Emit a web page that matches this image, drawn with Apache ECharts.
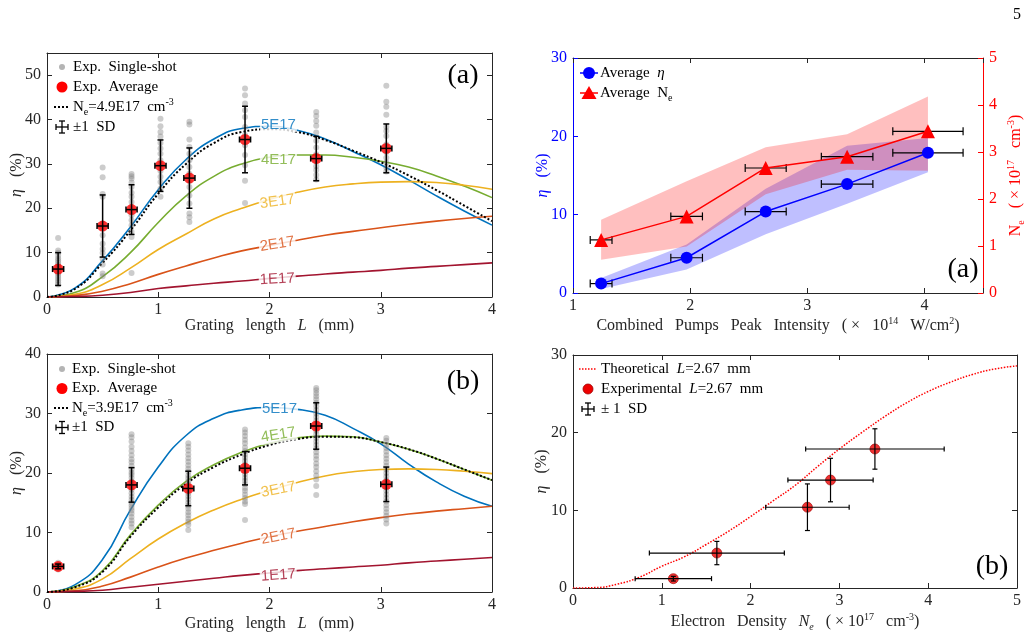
<!DOCTYPE html>
<html>
<head>
<meta charset="utf-8">
<script src="https://cdn.jsdelivr.net/npm/echarts@6/dist/echarts.min.js"></script>
<style>
  html, body { margin: 0; padding: 0; background: #fff; }
  #chart { width: 1028px; height: 640px; }
</style>
</head>
<body>
<div id="chart"></div>
<script>
// ---- data ----
// grating length grid for the theory curves (mm)
var lengthGrid = [0, 0.25, 0.5, 0.75, 1, 1.25, 1.5, 1.75, 2, 2.25, 2.5, 2.75, 3, 3.25, 3.5, 3.75, 4];
var curveNames = ['5E17', '4E17', '3E17', '2E17', '1E17'];

// panel (a) left: eta (%) vs L for Ne = 5,4,3,2,1 E17 and the 4.9E17 fit
var etaA_5e17 = [0, 2.0, 8.2, 15.8, 24.2, 31.0, 35.6, 38.0, 38.5, 37.6, 35.6, 32.8, 29.8, 26.4, 22.8, 19.4, 16.2];
var etaA_4e17 = [0, 1.0, 4.6, 10.0, 16.8, 22.8, 27.2, 30.0, 31.5, 32.0, 32.0, 31.5, 30.6, 29.3, 27.3, 25.0, 22.4];
var etaA_3e17 = [0, 0.6, 2.8, 6.5, 10.7, 14.2, 17.6, 20.0, 22.0, 23.6, 24.8, 25.5, 25.9, 26.0, 25.8, 25.2, 24.3];
var etaA_2e17 = [0, 0.3, 1.3, 3.0, 5.1, 7.0, 8.8, 10.4, 11.6, 12.8, 13.9, 14.8, 15.6, 16.4, 17.1, 17.7, 18.2];
var etaA_1e17 = [0, 0.1, 0.4, 1.0, 1.9, 2.5, 3.1, 3.6, 4.2, 4.7, 5.2, 5.6, 6.0, 6.5, 6.9, 7.3, 7.7];
var etaA_fit = [0, 1.8, 7.7, 15.0, 23.3, 30.0, 34.7, 37.2, 37.8, 37.2, 35.4, 33.0, 30.4, 27.4, 24.1, 20.6, 17.1];

// panel (b) left
var etaB_5e17 = [0, 1.2, 5.5, 13.8, 21.0, 26.3, 29.2, 30.6, 31.0, 30.7, 29.7, 27.5, 24.9, 21.5, 18.5, 16.1, 14.4];
var etaB_4e17 = [0, 0.9, 3.6, 9.6, 14.6, 18.6, 21.4, 23.5, 25.0, 25.9, 26.2, 26.1, 25.2, 24.0, 22.4, 20.6, 18.8];
var etaB_3e17 = [0, 0.5, 2.2, 5.6, 8.9, 11.6, 13.8, 15.6, 17.1, 18.4, 19.5, 20.2, 20.6, 20.7, 20.6, 20.3, 19.9];
var etaB_2e17 = [0, 0.2, 1.0, 2.5, 4.2, 5.7, 7.0, 8.2, 9.3, 10.2, 11.0, 11.8, 12.5, 13.1, 13.6, 14.0, 14.4];
var etaB_1e17 = [0, 0.1, 0.3, 0.8, 1.3, 1.8, 2.3, 2.8, 3.2, 3.6, 3.9, 4.2, 4.5, 4.9, 5.2, 5.5, 5.8];
var etaB_fit = [0, 0.8, 3.4, 9.3, 14.2, 18.2, 21.0, 23.1, 24.7, 25.7, 26.1, 26.0, 25.2, 24.0, 22.4, 20.6, 18.8];

// curve label anchors
var labelA_x = [2.08, 2.08, 2.07, 2.07, 2.07];
var labelA_y = [38.8, 30.9, 21.5, 11.9, 4.0];
var labelA_rot = [0, 0, 8, 9, 3];
var labelB_x = [2.09, 2.08, 2.08, 2.08, 2.08];
var labelB_y = [30.7, 26.4, 17.2, 9.3, 2.8];
var labelB_rot = [0, 9, 11, 11, 4];

// single shots, panel (a)
var shotsA_x = [0.1, 0.5, 0.76, 1.02, 1.28, 1.78, 2.42, 3.05];
var shotsA_y = [
  [13.3, 10.5, 10.0, 9.3, 8.7, 8.2, 7.7, 7.2, 6.8, 6.3, 5.8, 5.3, 4.8, 4.3, 3.8, 3.3, 2.8],
  [29.2, 27.0, 23.2, 22.6, 16.5, 15.8, 13.9, 12.0, 10.8, 9.9, 8.6, 7.3, 5.3, 4.7],
  [27.7, 27.2, 26.7, 25.8, 24.8, 23.5, 22.6, 21.4, 19.9, 18.4, 17.3, 16.2, 14.7, 13.5, 5.4],
  [40.2, 38.5, 37.2, 36.2, 34.7, 33.5, 32.3, 30.8, 29.7, 28.4, 27.1, 25.9, 24.4, 22.6],
  [39.5, 38.9, 35.5, 33.8, 32.3, 30.8, 29.3, 27.8, 26.2, 24.8, 22.9, 21.1, 18.8, 18.0, 16.9],
  [47.0, 45.5, 43.6, 42.1, 40.6, 38.3, 36.5, 34.2, 32.0, 29.7, 26.2, 21.2],
  [41.7, 40.8, 39.7, 38.6, 37.1, 35.2, 33.7, 32.2, 30.7, 29.5, 28.6, 27.5, 26.5],
  [47.6, 44.0, 42.9, 41.1, 38.3, 37.4, 36.3, 34.4, 32.6, 31.4, 30.3, 29.2, 28.3]
];
var avgA_x = [0.1, 0.5, 0.76, 1.02, 1.28, 1.78, 2.42, 3.05];
var avgA_y = [6.3, 16.0, 19.7, 29.6, 26.8, 35.5, 31.2, 33.5];
var sdA_y = [3.7, 7.0, 5.6, 5.8, 6.8, 7.5, 5.0, 5.5];
var sdA_x = [0.05, 0.05, 0.05, 0.05, 0.05, 0.05, 0.05, 0.05];

// single shots, panel (b)
var shotsB_x = [0.1, 0.76, 1.27, 1.78, 2.42, 3.05];
var shotsB_y = [
  [4.9, 4.6, 4.4, 4.2, 4.0, 3.8],
  [26.5, 26.0, 25.3, 24.4, 23.7, 23.0, 22.3, 21.8, 21.2, 20.6, 20.1, 19.7, 19.2, 18.6, 18.1, 17.7, 17.2, 16.6, 16.0, 15.5, 15.0, 14.6, 14.1, 13.7, 13.2, 12.6, 12.0, 11.5, 10.9],
  [25.0, 24.4, 23.8, 23.1, 22.5, 21.9, 21.3, 20.7, 20.2, 19.6, 19.1, 18.6, 18.2, 17.7, 17.1, 16.6, 16.1, 15.6, 15.0, 14.5, 14.0, 13.4, 12.9, 12.3, 11.8, 11.3, 10.4],
  [27.3, 26.8, 26.2, 25.6, 25.0, 24.3, 23.7, 23.1, 22.6, 22.0, 21.4, 20.8, 20.3, 19.8, 19.2, 18.7, 18.1, 17.5, 17.0, 16.4, 15.8, 15.2, 14.8, 12.1],
  [34.3, 33.9, 33.4, 32.9, 32.4, 31.8, 31.2, 30.6, 30.0, 29.4, 28.8, 28.2, 27.7, 27.1, 26.5, 25.9, 25.3, 24.7, 24.1, 23.5, 22.9, 22.3, 21.6, 21.0, 20.3, 19.6, 18.9, 17.8, 16.3],
  [25.9, 25.4, 24.8, 24.2, 23.6, 23.0, 22.4, 21.8, 21.2, 20.6, 20.0, 19.4, 18.8, 18.2, 17.6, 17.0, 16.4, 15.8, 15.2, 14.6, 14.0, 13.4, 12.8, 12.2, 11.5]
];
var avgB_x = [0.1, 0.76, 1.27, 1.78, 2.42, 3.05];
var avgB_y = [4.3, 18.0, 17.4, 20.8, 27.9, 18.1];
var sdB_y = [0.4, 2.9, 2.9, 2.8, 3.9, 2.9];
var sdB_x = [0.05, 0.05, 0.05, 0.05, 0.05, 0.05];

// panel (a) right: vs combined pump intensity (x 1e14 W/cm2)
var intensity = [1.24, 1.97, 2.645, 3.34, 4.03];
var intensityErr = [0.093, 0.135, 0.175, 0.22, 0.3];
var etaAvg = [1.2, 4.5, 10.4, 13.9, 17.9];
var etaLow = [0.5, 3.0, 7.5, 11.4, 15.4];
var etaHigh = [1.9, 6.2, 13.3, 18.8, 19.8];
var neAvg = [1.13, 1.63, 2.66, 2.9, 3.44];
var neLow = [0.71, 0.99, 2.1, 2.62, 2.6];
var neHigh = [1.56, 2.38, 3.1, 3.38, 4.18];

// panel (b) right: eta vs electron density
var densityGrid = [0, 0.25, 0.5, 0.75, 1, 1.25, 1.5, 1.75, 2, 2.25, 2.5, 2.75, 3, 3.25, 3.5, 3.75, 4, 4.25, 4.5, 4.75, 5];
var etaTheory = [0, 0.05, 0.5, 1.4, 2.8, 4.0, 5.6, 7.3, 9.2, 11.2, 13.2, 15.6, 17.9, 20.0, 22.0, 23.8, 25.3, 26.5, 27.5, 28.2, 28.6];
var neExp = [1.13, 1.62, 2.64, 2.9, 3.4];
var neExpErr = [0.43, 0.76, 0.47, 0.48, 0.78];
var etaExp = [1.2, 4.5, 10.4, 13.9, 17.9];
var etaExpErr = [0.3, 1.5, 3.0, 2.8, 2.6];

// ---- styling ----
var SERIF = '"Liberation Serif", "Times New Roman", serif';
var SANS = '"Liberation Sans", Arial, sans-serif';
var INK = '#262626';
var CURVE_COLORS = ['#0072BD', '#77AC30', '#EDB120', '#D95319', '#A2142F'];

var RICH = {
  i: { fontStyle: 'italic', fontFamily: SERIF, fontSize: 15 },
  I: { fontStyle: 'italic', fontFamily: SERIF, fontSize: 16 },
  p: { fontFamily: SERIF, fontSize: 10, verticalAlign: 'top', lineHeight: 10 },
  s: { fontFamily: SERIF, fontSize: 10, verticalAlign: 'bottom', lineHeight: 10 },
  si: { fontFamily: SERIF, fontSize: 10, fontStyle: 'italic', verticalAlign: 'bottom', lineHeight: 10 }
};

function pairs(xs, ys) {
  return xs.map(function (x, k) { return [x, ys[k]]; });
}

// only label the regular ticks, not the axis max
function tickText(step) {
  return function (v) {
    return Math.abs(v / step - Math.round(v / step)) < 1e-6 ? String(v) : '';
  };
}

function xAxes(grid, min, max, name, gap, color) {
  var c = color || INK;
  var base = {
    type: 'value', gridIndex: grid, min: min, max: max, interval: 1,
    splitLine: { show: false },
    axisLine: { show: true, onZero: false, lineStyle: { color: c, width: 1 } },
    axisTick: { show: true, inside: true, length: 5, lineStyle: { color: c } }
  };
  var bottom = Object.assign({}, base, {
    position: 'bottom', name: name, nameLocation: 'middle', nameGap: gap, nameMoveOverlap: false,
    nameTextStyle: { fontFamily: SERIF, fontSize: 16, color: INK, lineHeight: 20, rich: RICH },
    axisLabel: { color: INK, fontFamily: SERIF, fontSize: 16, margin: 5, formatter: tickText(1) }
  });
  var top = Object.assign({}, base, { position: 'top', axisLabel: { show: false } });
  return [bottom, top];
}

function yAxis(grid, pos, min, max, interval, opts) {
  opts = opts || {};
  var c = opts.color || INK;
  var ax = {
    type: 'value', gridIndex: grid, position: pos, min: min, max: max, interval: interval,
    splitLine: { show: false },
    axisLine: { show: true, onZero: false, lineStyle: { color: c, width: 1 } },
    axisTick: { show: true, inside: true, length: 5, lineStyle: { color: c } },
    axisLabel: { show: !!opts.labels, color: c, fontFamily: SERIF, fontSize: 16, margin: 6, formatter: tickText(interval) }
  };
  if (opts.name) {
    ax.name = opts.name;
    ax.nameLocation = 'middle';
    ax.nameRotate = 90;
    ax.nameGap = opts.gap;
    ax.nameMoveOverlap = false;
    ax.nameTextStyle = { fontFamily: SERIF, fontSize: 16, color: c, lineHeight: 20, rich: RICH };
  }
  return ax;
}

function curve(xs, ys, color, xi, yi, dotted) {
  return {
    type: 'line', xAxisIndex: xi, yAxisIndex: yi, data: pairs(xs, ys),
    smooth: true, symbol: 'none', silent: true, z: dotted ? 4 : 3,
    lineStyle: { color: color, width: dotted ? 2 : 1.6, type: dotted ? [2, 2] : 'solid' }
  };
}

function curveLabels(xs, ys, rots, xi, yi) {
  return {
    type: 'scatter', xAxisIndex: xi, yAxisIndex: yi, symbolSize: 1, silent: true, z: 10,
    itemStyle: { color: 'rgba(0,0,0,0)' },
    data: xs.map(function (x, k) {
      return {
        value: [x, ys[k]], name: curveNames[k],
        label: { rotate: rots[k], color: CURVE_COLORS[k] }
      };
    }),
    label: {
      show: true, position: 'inside', formatter: '{b}',
      fontFamily: SANS, fontSize: 15, backgroundColor: '#fff', padding: [0, 1]
    }
  };
}

function shots(xs, cols, xi, yi) {
  var data = [];
  xs.forEach(function (x, k) {
    cols[k].forEach(function (y) { data.push([x, y]); });
  });
  return {
    type: 'scatter', xAxisIndex: xi, yAxisIndex: yi, data: data, symbolSize: 6, silent: true, z: 5,
    itemStyle: { color: 'rgba(128,128,128,0.5)' }
  };
}

function dots(xs, ys, xi, yi, size, style, symbol) {
  return {
    type: 'scatter', xAxisIndex: xi, yAxisIndex: yi, data: pairs(xs, ys),
    symbol: symbol || 'circle', symbolSize: size, silent: true, z: 6, itemStyle: style
  };
}

function errorBars(xs, ys, dxs, dys, xi, yi, cap, width, z) {
  return {
    type: 'custom', xAxisIndex: xi, yAxisIndex: yi, silent: true, z: z,
    dimensions: ['x', 'y', 'dx', 'dy'], encode: { x: 0, y: 1 },
    data: xs.map(function (x, k) { return [x, ys[k], dxs ? dxs[k] : 0, dys ? dys[k] : 0]; }),
    renderItem: function (params, api) {
      var x = api.value(0), y = api.value(1), dx = api.value(2), dy = api.value(3);
      var c = api.coord([x, y]);
      var st = { stroke: '#000', lineWidth: width };
      var kids = [];
      function seg(x1, y1, x2, y2) {
        kids.push({ type: 'line', shape: { x1: x1, y1: y1, x2: x2, y2: y2 }, style: st });
      }
      if (dy > 0) {
        var t = api.coord([x, y + dy])[1], b = api.coord([x, y - dy])[1];
        seg(c[0], t, c[0], b);
        seg(c[0] - cap, t, c[0] + cap, t);
        seg(c[0] - cap, b, c[0] + cap, b);
      }
      if (dx > 0) {
        var l = api.coord([x - dx, y])[0], r = api.coord([x + dx, y])[0];
        seg(l, c[1], r, c[1]);
        seg(l, c[1] - cap, l, c[1] + cap);
        seg(r, c[1] - cap, r, c[1] + cap);
      }
      return { type: 'group', children: kids };
    }
  };
}

// shaded band between low and high, drawn as one polygon
function band(xs, lows, highs, xi, yi, color, z) {
  return {
    type: 'custom', xAxisIndex: xi, yAxisIndex: yi, silent: true, z: z,
    dimensions: ['x', 'lo', 'hi'], encode: { x: 0, y: [1, 2] },
    data: xs.map(function (x, k) { return [x, lows[k], highs[k]]; }),
    renderItem: function (params, api) {
      if (params.dataIndexInside !== 0) return null;
      var n = params.dataInsideLength, upper = [], lower = [];
      for (var k = 0; k < n; k++) {
        upper.push(api.coord([api.value(0, k), api.value(2, k)]));
        lower.push(api.coord([api.value(0, k), api.value(1, k)]));
      }
      return { type: 'polygon', shape: { points: upper.concat(lower.reverse()) }, style: { fill: color } };
    }
  };
}

// ---- legends drawn as graphics ----
function mark(kind, x, y) {
  var els = [];
  function ln(x1, y1, x2, y2, stroke, w, dash) {
    els.push({ type: 'line', shape: { x1: x1, y1: y1, x2: x2, y2: y2 },
      style: { stroke: stroke, lineWidth: w, lineDash: dash || null } });
  }
  if (kind === 'gray') els.push({ type: 'circle', shape: { cx: x, cy: y, r: 3 }, style: { fill: '#b4b4b4' } });
  if (kind === 'red') els.push({ type: 'circle', shape: { cx: x, cy: y, r: 5.5 }, style: { fill: '#ff0000' } });
  if (kind === 'redDot') els.push({ type: 'circle', shape: { cx: x, cy: y, r: 5 }, style: { fill: '#ee0000', stroke: '#a00000', lineWidth: 0.8 } });
  if (kind === 'dotted') ln(x - 8, y, x + 8, y, '#000', 2, [2, 2]);
  if (kind === 'redDotted') ln(x - 9, y, x + 9, y, '#ff0000', 1.5, [1.5, 1.5]);
  if (kind === 'cross') {
    ln(x, y - 6, x, y + 6, '#000', 1.3);
    ln(x - 3, y - 6, x + 3, y - 6, '#000', 1.3);
    ln(x - 3, y + 6, x + 3, y + 6, '#000', 1.3);
    ln(x - 6, y, x + 6, y, '#000', 1.3);
    ln(x - 6, y - 3, x - 6, y + 3, '#000', 1.3);
    ln(x + 6, y - 3, x + 6, y + 3, '#000', 1.3);
  }
  if (kind === 'blueCircle') {
    ln(x - 9, y, x + 9, y, '#0000ff', 1.5);
    els.push({ type: 'circle', shape: { cx: x, cy: y, r: 6 }, style: { fill: '#0000ff' } });
  }
  if (kind === 'redTriangle') {
    ln(x - 9, y, x + 9, y, '#ff0000', 1.5);
    els.push({ type: 'polygon', shape: { points: [[x, y - 7], [x - 7.5, y + 6], [x + 7.5, y + 6]] }, style: { fill: '#ff0000' } });
  }
  return els;
}

function legendBlock(x, y, textX, step, rows) {
  var els = [];
  rows.forEach(function (r, k) {
    var cy = y + k * step;
    els = els.concat(mark(r[0], x, cy));
    els.push({
      type: 'text', x: textX, y: cy, z: 20,
      style: {
        text: r[1], rich: RICH, fontFamily: SERIF, fontSize: 15, fill: '#000',
        verticalAlign: 'middle', textVerticalAlign: 'middle', lineHeight: 20
      }
    });
  });
  return els;
}

function tag(text, x, y, size) {
  return {
    type: 'text', x: x, y: y, z: 20,
    style: { text: text, fontFamily: SERIF, fontSize: size, fill: '#000',
      align: 'center', textAlign: 'center', verticalAlign: 'middle', textVerticalAlign: 'middle' }
  };
}

var graphics = []
  .concat(legendBlock(62, 67, 73, 20, [
    ['gray', 'Exp.  Single-shot'],
    ['red', 'Exp.  Average'],
    ['dotted', 'N{s|e}=4.9E17  cm{p|-3}'],
    ['cross', '±1  SD']
  ]))
  .concat(legendBlock(62, 369, 72, 19.5, [
    ['gray', 'Exp.  Single-shot'],
    ['red', 'Exp.  Average'],
    ['dotted', 'N{s|e}=3.9E17  cm{p|-3}'],
    ['cross', '±1  SD']
  ]))
  .concat(legendBlock(589, 73, 600, 20, [
    ['blueCircle', 'Average  {i|η}'],
    ['redTriangle', 'Average  N{s|e}']
  ]))
  .concat(legendBlock(588, 369, 601, 20, [
    ['redDotted', 'Theoretical  {i|L}=2.67  mm'],
    ['redDot', 'Experimental  {i|L}=2.67  mm'],
    ['cross', '± 1  SD']
  ]))
  .concat([
    tag('(a)', 463, 76, 28),
    tag('(b)', 463, 382, 28),
    tag('(a)', 963, 270, 28),
    tag('(b)', 992, 567, 28),
    tag('5', 1017, 15, 16)
  ]);

var series = [];
// panel (a) left
[etaA_5e17, etaA_4e17, etaA_3e17, etaA_2e17, etaA_1e17].forEach(function (ys, k) {
  series.push(curve(lengthGrid, ys, CURVE_COLORS[k], 0, 0, false));
});
series.push(curve(lengthGrid, etaA_fit, '#000', 0, 0, true));
series.push(curveLabels(labelA_x, labelA_y, labelA_rot, 0, 0));
series.push(shots(shotsA_x, shotsA_y, 0, 0));
series.push(dots(avgA_x, avgA_y, 0, 0, 11, { color: '#ff0000' }));
series.push(errorBars(avgA_x, avgA_y, sdA_x, sdA_y, 0, 0, 3, 1.5, 7));
// panel (b) left
[etaB_5e17, etaB_4e17, etaB_3e17, etaB_2e17, etaB_1e17].forEach(function (ys, k) {
  series.push(curve(lengthGrid, ys, CURVE_COLORS[k], 2, 2, false));
});
series.push(curve(lengthGrid, etaB_fit, '#000', 2, 2, true));
series.push(curveLabels(labelB_x, labelB_y, labelB_rot, 2, 2));
series.push(shots(shotsB_x, shotsB_y, 2, 2));
series.push(dots(avgB_x, avgB_y, 2, 2, 11, { color: '#ff0000' }));
series.push(errorBars(avgB_x, avgB_y, sdB_x, sdB_y, 2, 2, 3, 1.5, 7));
// panel (a) right
series.push(band(intensity, etaLow, etaHigh, 4, 4, 'rgba(0,0,255,0.25)', 1));
series.push(band(intensity, neLow, neHigh, 4, 5, 'rgba(255,0,0,0.25)', 2));
series.push(errorBars(intensity, etaAvg, intensityErr, null, 4, 4, 4, 1.2, 4));
series.push(errorBars(intensity, neAvg, intensityErr, null, 4, 5, 4, 1.2, 4));
series.push({
  type: 'line', xAxisIndex: 4, yAxisIndex: 4, data: pairs(intensity, etaAvg), silent: true, z: 6,
  symbol: 'circle', symbolSize: 12, lineStyle: { color: '#0000ff', width: 1.5 }, itemStyle: { color: '#0000ff' }
});
series.push({
  type: 'line', xAxisIndex: 4, yAxisIndex: 5, data: pairs(intensity, neAvg), silent: true, z: 6,
  symbol: 'triangle', symbolSize: 14, lineStyle: { color: '#ff0000', width: 1.5 }, itemStyle: { color: '#ff0000' }
});
// panel (b) right
series.push({
  type: 'line', xAxisIndex: 6, yAxisIndex: 6, data: pairs(densityGrid, etaTheory), smooth: true,
  symbol: 'none', silent: true, z: 3, lineStyle: { color: '#ff0000', width: 1.5, type: [1.5, 1.5] }
});
series.push(dots(neExp, etaExp, 6, 6, 10, { color: '#ee0000', borderColor: '#a00000', borderWidth: 0.8 }));
series.push(errorBars(neExp, etaExp, neExpErr, etaExpErr, 6, 6, 2.5, 1.2, 7));

var option = {
  animation: false,
  backgroundColor: '#ffffff',
  textStyle: { fontFamily: SERIF },
  grid: [
    { left: 47, top: 53, width: 445, height: 244 },
    { left: 47, top: 354, width: 445, height: 238 },
    { left: 573, top: 58, width: 410, height: 235 },
    { left: 573, top: 355, width: 444, height: 233 }
  ],
  xAxis: []
    .concat(xAxes(0, 0, 4, 'Grating   length   {I|L}   (mm)', 19))
    .concat(xAxes(1, 0, 4, 'Grating   length   {I|L}   (mm)', 22))
    .concat(xAxes(2, 1, 4.5, 'Combined   Pumps   Peak   Intensity   ( ×   10{p|14}   W/cm{p|2})', 23))
    .concat(xAxes(3, 0, 5, 'Electron   Density   {I|N}{si|e}   ( × 10{p|17}   cm{p|-3})', 24)),
  yAxis: [
    yAxis(0, 'left', 0, 55, 10, { labels: true, name: '{I|η}   (%)', gap: 20 }),
    yAxis(0, 'right', 0, 55, 10, {}),
    yAxis(1, 'left', 0, 40, 10, { labels: true, name: '{I|η}   (%)', gap: 20 }),
    yAxis(1, 'right', 0, 40, 10, {}),
    yAxis(2, 'left', 0, 30, 10, { labels: true, color: '#0000ff', name: '{I|η}   (%)', gap: 20 }),
    yAxis(2, 'right', 0, 5, 1, { labels: true, color: '#ff0000', name: 'N{s|e}   ( × 10{p|17}   cm{p|-3})', gap: 23 }),
    yAxis(3, 'left', 0, 30, 10, { labels: true, name: '{I|η}   (%)', gap: 21 }),
    yAxis(3, 'right', 0, 30, 10, {})
  ],
  series: series,
  graphic: { elements: graphics }
};

var chart = echarts.init(document.getElementById('chart'));
chart.setOption(option);
</script>
</body>
</html>
